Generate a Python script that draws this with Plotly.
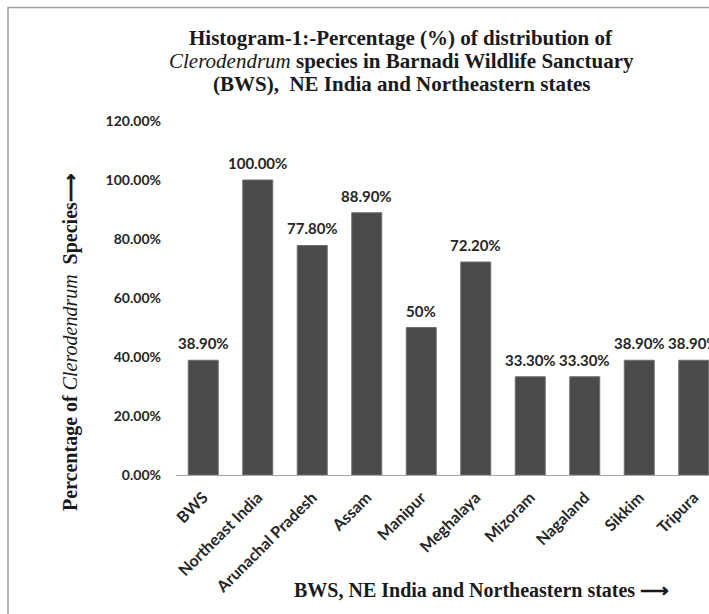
import plotly.graph_objects as go

# Share of Clerodendrum species recorded in each area
areas = ["BWS", "Northeast India", "Arunachal Pradesh", "Assam", "Manipur",
         "Meghalaya", "Mizoram", "Nagaland", "Sikkim", "Tripura"]
share = [0.389, 1.000, 0.778, 0.889, 0.500, 0.722, 0.333, 0.333, 0.389, 0.389]
share_labels = ["38.90%", "100.00%", "77.80%", "88.90%", "50%",
                "72.20%", "33.30%", "33.30%", "38.90%", "38.90%"]

W, H = 709, 614
ML, MR, MT, MB = 176, 0, 121, 139
PW, PH = W - ML - MR, H - MT - MB


def px(x):
    return (x - ML) / PW


def py(y):
    return (H - MB - y) / PH


SERIF = "Liberation Serif, Times New Roman, serif"
SANS = "Lato, Open Sans, sans-serif"

fig = go.Figure(go.Bar(
    x=list(range(len(areas))),
    y=share,
    marker=dict(color="#4a4a4a", line=dict(color="#6e6e6e", width=1)),
    width=0.55,
    hoverinfo="skip",
))

# value labels sit a little above each bar top
for i, (v, lab) in enumerate(zip(share, share_labels)):
    fig.add_annotation(
        x=i, y=v, text=f"<b>{lab}</b>", showarrow=False,
        xanchor="center", yanchor="bottom", yshift=6,
        font=dict(family=SANS, size=15, color="#262626"),
    )

fig.update_layout(
    width=W, height=H,
    margin=dict(l=ML, r=MR, t=MT, b=MB, pad=0),
    paper_bgcolor="white", plot_bgcolor="white",
    showlegend=False,
    xaxis=dict(
        range=[-0.5, -0.5 + PW / 54.5],
        tickmode="array", tickvals=list(range(len(areas))), ticktext=areas,
        tickangle=-45, showgrid=False, zeroline=False,
        showline=True, linecolor="#a6a6a6", linewidth=1,
        tickfont=dict(family=SANS, size=16, color="#262626", weight="bold"),
        ticks="", ticklabelstandoff=6,
    ),
    yaxis=dict(
        range=[0, 1.2], dtick=0.2, tickformat=".2%",
        showgrid=False, zeroline=False, showline=False, ticks="",
        ticklabelstandoff=14,
        tickfont=dict(family=SANS, size=14, color="#262626", weight="bold"),
    ),
    shapes=[dict(
        type="rect", xref="paper", yref="paper",
        x0=px(8), x1=px(760), y0=py(660), y1=py(7.5),
        line=dict(color="#a0a0a0", width=1.5), layer="below",
    )],
)

title_lines = [
    ("<b>Histogram-1:-Percentage (%) of distribution of</b>", 38),
    ("<i>Clerodendrum</i> <b>species in Barnadi Wildlife Sanctuary</b>", 61),
    ("<b>(BWS),  NE India and Northeastern states</b>", 84),
]
for txt, yy in title_lines:
    fig.add_annotation(
        text=txt, xref="paper", yref="paper", x=px(401), y=py(yy),
        xanchor="center", yanchor="middle", showarrow=False,
        font=dict(family=SERIF, size=21, color="#1a1a1a"),
    )

fig.add_annotation(
    text="<b>BWS, NE India and Northeastern states ⟶</b>",
    xref="paper", yref="paper", x=px(481), y=py(590),
    xanchor="center", yanchor="middle", showarrow=False,
    font=dict(family=SERIF, size=20, color="#1a1a1a"),
)

fig.add_annotation(
    text="<b>Percentage of </b><i>Clerodendrum</i><b>  Species⟶</b>",
    xref="paper", yref="paper", x=px(70), y=py(342),
    xanchor="center", yanchor="middle", showarrow=False, textangle=-90,
    font=dict(family=SERIF, size=20, color="#1a1a1a"),
)

fig.write_html("out.html")
